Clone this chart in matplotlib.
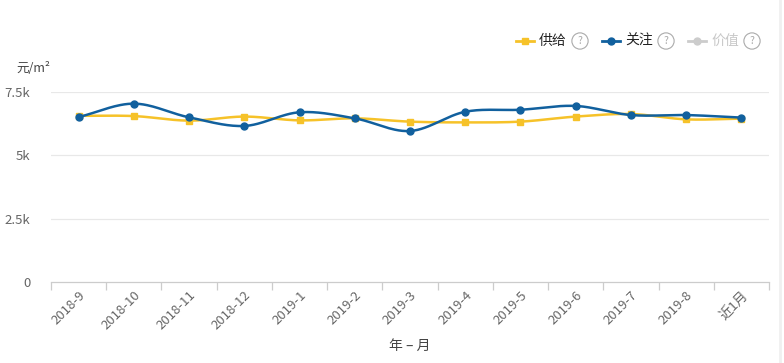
import numpy as np
import matplotlib
matplotlib.use("Agg")
import matplotlib.pyplot as plt
from matplotlib.lines import Line2D

plt.rcParams['font.family'] = ['Noto Sans CJK SC', 'DejaVu Sans']

categories = ["2018-9", "2018-10", "2018-11", "2018-12", "2019-1", "2019-2", "2019-3",
              "2019-4", "2019-5", "2019-6", "2019-7", "2019-8", "近1月"]
supply = [6560, 6550, 6370, 6530, 6380, 6460, 6330, 6300, 6330, 6530, 6630, 6420, 6450]
attention = [6510, 7040, 6500, 6160, 6700, 6460, 5960, 6720, 6800, 6950, 6590, 6590, 6490]
yticks = [0, 2500, 5000, 7500]
ytick_labels = ["0", "2.5k", "5k", "7.5k"]

YELLOW = "#F6C229"
BLUE = "#11609E"
GRID = "#E8E8E8"
TXT = "#666666"


def smooth(y, n=30, k=0.5):
    y = np.asarray(y, float)
    x = np.arange(len(y), dtype=float)
    xs, ys = [], []
    m = np.zeros_like(y)
    for i in range(len(y)):
        a = y[max(i - 1, 0)]
        b = y[min(i + 1, len(y) - 1)]
        span = min(i + 1, len(y) - 1) - max(i - 1, 0)
        m[i] = (b - a) / span * 2 * k
    t = np.linspace(0, 1, n)
    h00 = 2 * t**3 - 3 * t**2 + 1
    h10 = t**3 - 2 * t**2 + t
    h01 = -2 * t**3 + 3 * t**2
    h11 = t**3 - t**2
    for i in range(len(y) - 1):
        xs.append(x[i] + t)
        ys.append(h00 * y[i] + h10 * m[i] + h01 * y[i + 1] + h11 * m[i + 1])
    return np.concatenate(xs), np.concatenate(ys)


fig = plt.figure(figsize=(7.84, 3.63), dpi=100)
ax = fig.add_axes([51 / 784, 1 - 282 / 363, (769 - 51) / 784, (282 - 92) / 363])

n = len(categories)
ax.set_xlim(-0.5, n - 0.5)
ax.set_ylim(0, 7500)

for v in yticks[1:]:
    ax.axhline(v, color=GRID, lw=0.9, zorder=0)

xs, ys = smooth(supply)
ax.plot(xs, ys, color=YELLOW, lw=1.8, zorder=2, solid_capstyle='round')
ax.plot(range(n), supply, ls='none', marker='s', ms=5, color=YELLOW, zorder=3)
xs, ys = smooth(attention)
ax.plot(xs, ys, color=BLUE, lw=1.8, zorder=4, solid_capstyle='round')
ax.plot(range(n), attention, ls='none', marker='o', ms=5, color=BLUE, zorder=5)

for s in ['top', 'right', 'left']:
    ax.spines[s].set_visible(False)
ax.spines['bottom'].set_color("#CCCCCC")
ax.spines['bottom'].set_linewidth(0.9)

ax.set_yticks(yticks)
ax.set_yticklabels(ytick_labels)
ax.tick_params(axis='y', length=0, pad=15, labelsize=9.5, labelcolor=TXT)

ax.set_xticks(np.arange(-0.5, n, 1.0), minor=False)
ax.set_xticklabels([])
ax.tick_params(axis='x', which='major', length=6, color="#CCCCCC", width=0.9)
ax.set_xticks(np.arange(n), minor=True)
ax.set_xticklabels(categories, minor=True, rotation=45, ha='right',
                   rotation_mode='anchor', fontsize=9.5, color=TXT)
ax.tick_params(axis='x', which='minor', length=0, pad=5)

fig.text(410 / 784, 1 - 346 / 363, "年 – 月", ha='center', va='center', fontsize=10, color="#444444")
fig.text(16 / 784, 1 - 68 / 363, "元/m²", ha='left', va='center', fontsize=9, color="#444444")

# legend
ly = 1 - 41 / 363
items = [("供给", YELLOW, 's', 525, "#222222"), ("关注", BLUE, 'o', 611, "#222222"),
         ("价值", "#CCCCCC", 'o', 697, "#C8C8C8")]
for label, col, mk, xc, tcol in items:
    fig.add_artist(Line2D([(xc - 9) / 784, (xc + 9) / 784], [ly, ly], color=col, lw=2,
                          transform=fig.transFigure))
    fig.add_artist(Line2D([xc / 784], [ly], color=col, marker=mk, ms=5,
                          transform=fig.transFigure))
    fig.text((xc + 14) / 784, ly, label, ha='left', va='center', fontsize=10, color=tcol)
    fig.text((xc + 55) / 784, ly, "?", ha='center', va='center', fontsize=7.5, color="#AAAAAA",
             bbox=dict(boxstyle='circle,pad=0.3', fc='white', ec="#AAAAAA", lw=0.8))

fig.add_artist(Line2D([780 / 784, 780 / 784], [0, 1], color="#F0F0F0", lw=2, transform=fig.transFigure))

fig.savefig("out.png", dpi=100)
